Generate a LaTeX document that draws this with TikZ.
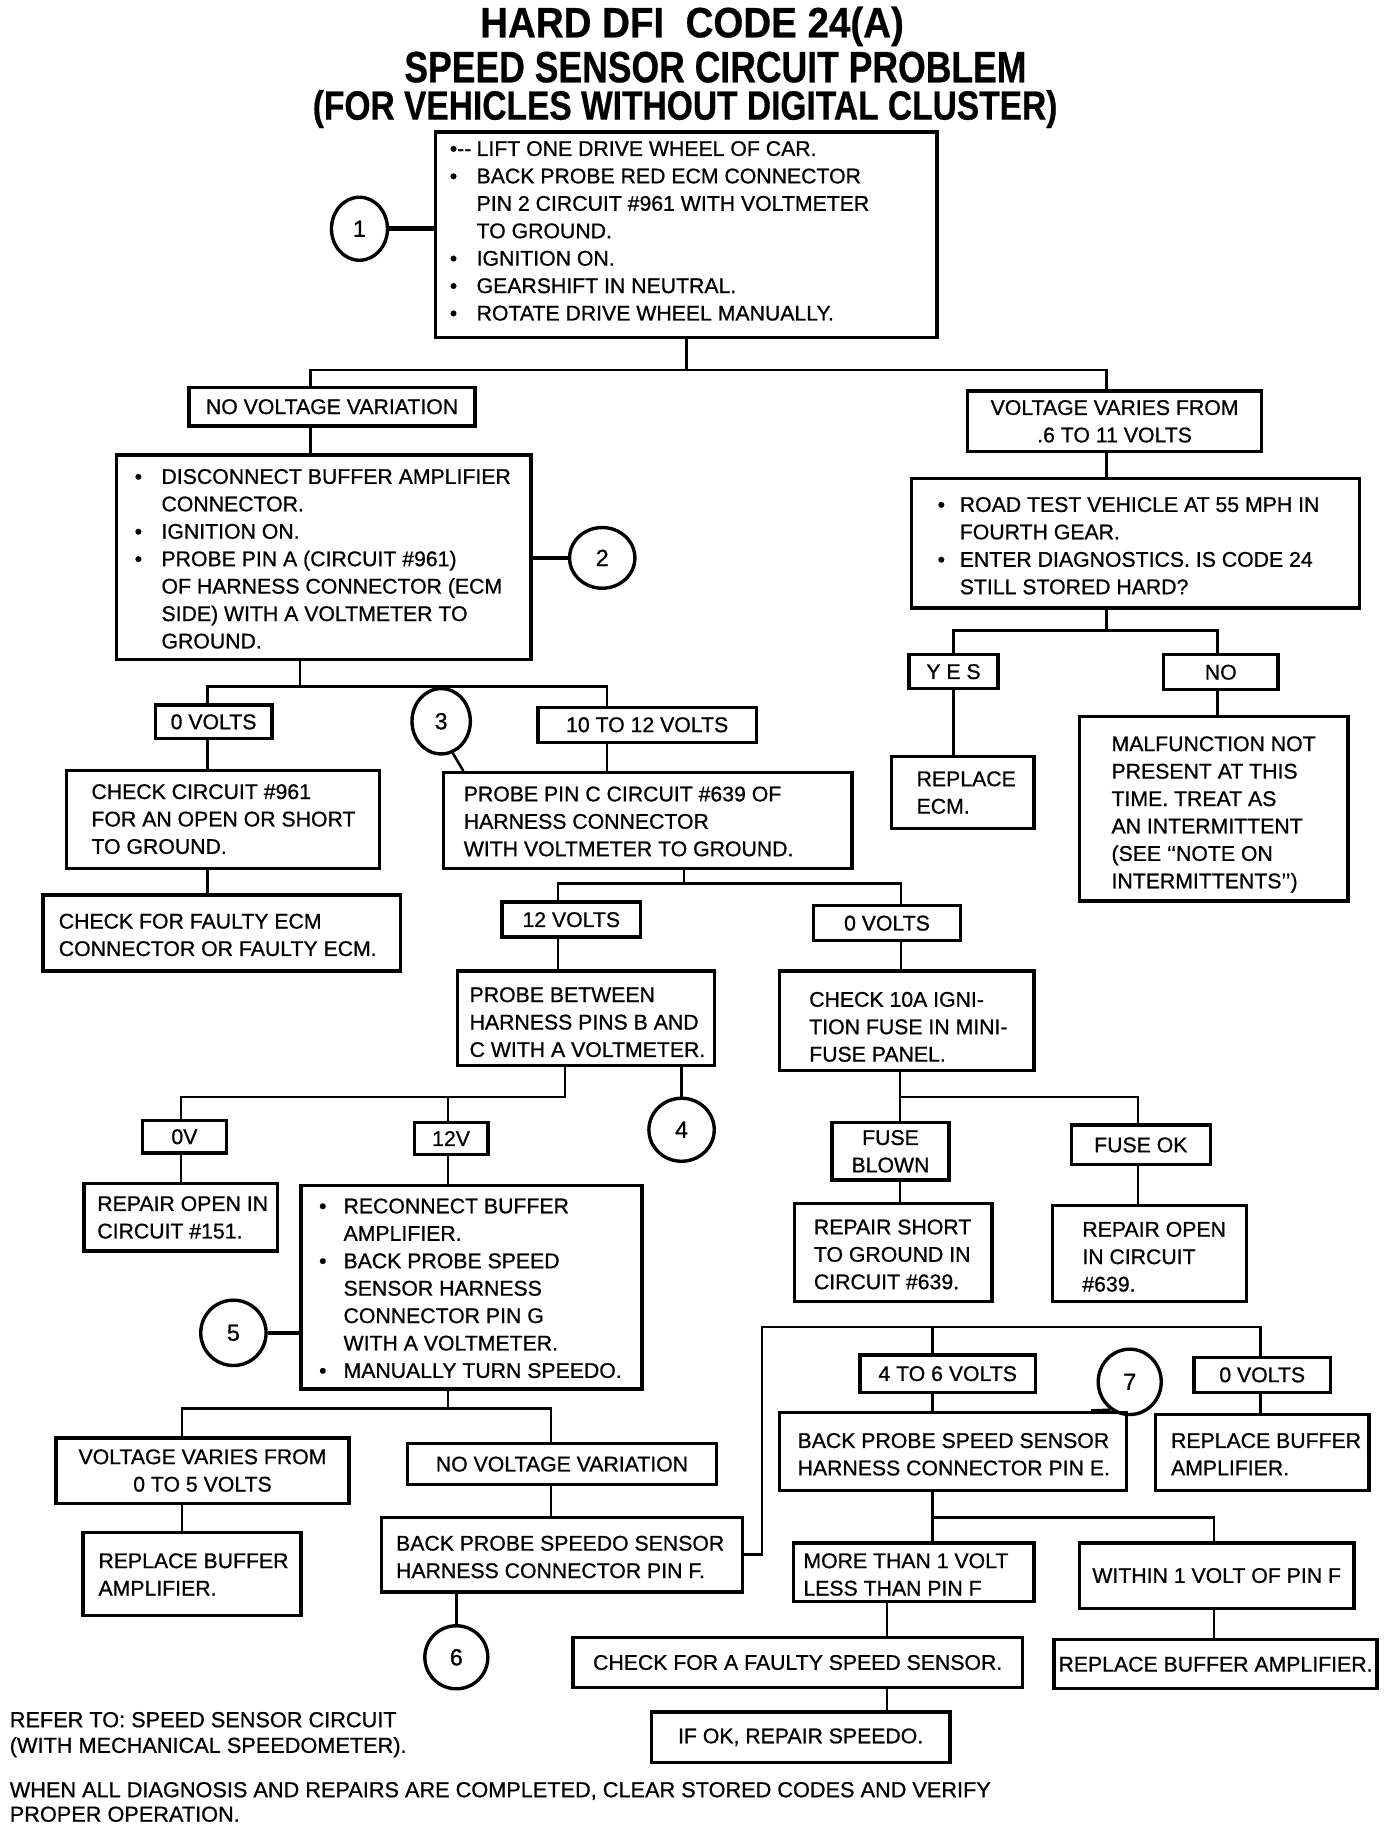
\documentclass[tikz,border=0pt]{standalone}
\usepackage{fontspec}
\setmainfont{Liberation Sans}
\newfontfamily\medfam{Liberation Sans}[FakeBold=0.8,Ligatures=TeX]
\newfontfamily\ttlfam{Liberation Sans Bold}[FakeBold=0.6,Ligatures=TeX]
\usepackage{graphicx}
\usetikzlibrary{shapes.geometric}
\newcommand\bodyfont{\medfam\fontsize{9.1}{11.75}\selectfont}
\newcommand\bu[2]{\makebox[#1][l]{•}#2}
\newcommand\nb[2]{\hspace*{#1}#2}
\newcommand\bx[6]{\node[box, minimum width={(#4-#2)*0.5pt}, minimum height={(#5-#3)*0.5pt}] (#1) at ({(#2+#4)/2},{(#3+#5)/2}) {#6};}
\newcommand\cc[6]{\node[circ, minimum width={#4*0.5pt}, minimum height={#5*0.5pt}] (#1) at (#2,#3) {#6};}
\tikzset{
  box/.style={draw, line width=1.45pt, inner sep=0pt, align=center, font=\bodyfont},
  txt/.style={inner sep=0pt, anchor=north west, align=left, font=\bodyfont},
  circ/.style={draw, ellipse, line width=1.45pt, inner sep=0pt, font=\medfam\fontsize{10}{12}\selectfont},
  conn/.style={line width=1.1pt},
  heavy/.style={line width=2pt},
  ttl/.style={anchor=base, inner sep=0pt}
}
\begin{document}
\begin{tikzpicture}[x=0.5pt,y=-0.5pt]
\fill[white] (0,0) rectangle (1193,1568);
\useasboundingbox (0,0) rectangle (1193,1568);

% titles
\node[ttl, font=\ttlfam\fontsize{18.2}{20}\selectfont] (ttl1) at (593,32) {\resizebox{181.5pt}{\height}{HARD DFI\ \ CODE 24(A)}};
\node[ttl, font=\ttlfam\fontsize{18.8}{20}\selectfont] (ttl2) at (613,70.5) {\resizebox{266.5pt}{\height}{SPEED SENSOR CIRCUIT PROBLEM}};
\node[ttl, font=\ttlfam\fontsize{17.5}{20}\selectfont] (ttl3) at (587,102.5) {\resizebox{319pt}{\height}{(FOR VEHICLES WITHOUT DIGITAL CLUSTER)}};

% boxes
\bx{b1}{373}{113}{803}{289}{}
\bx{nvv}{162}{332}{407}{365}{NO VOLTAGE VARIATION}
\bx{vvf}{829}{335}{1081}{387}{VOLTAGE VARIES FROM\\.6 TO 11 VOLTS}
\bx{b2}{100}{390}{455}{565}{}
\bx{road}{781}{410}{1165}{521}{}
\bx{yes}{779}{561}{855}{590}{Y E S}
\bx{no}{997}{561}{1095}{591}{NO}
\bx{recm}{764}{648}{886}{710}{}
\bx{malf}{925}{614}{1155}{772}{}
\bx{v0a}{133}{604}{233}{633}{0 VOLTS}
\bx{v1012}{461}{606}{648}{636}{10 TO 12 VOLTS}
\bx{cc961}{57}{660}{325}{744}{}
\bx{cfe}{37}{767}{343}{832}{}
\bx{ppc}{380}{662}{730}{744}{}
\bx{v12}{430}{773}{549}{803}{12 VOLTS}
\bx{v0b}{697}{776}{823}{806}{0 VOLTS}
\bx{pb}{392}{832}{612}{913}{}
\bx{c10}{668}{832}{886}{917}{}
\bx{zv}{122}{960}{194}{988}{0V}
\bx{tv}{355}{962}{418}{989}{12V}
\bx{fb}{713}{962}{813}{1011}{FUSE\\BLOWN}
\bx{fok}{918}{964}{1037}{998}{FUSE OK}
\bx{ro151}{72}{1014}{238}{1072}{}
\bx{b5}{258}{1016}{550}{1190}{}
\bx{rs}{681}{1031}{850}{1115}{}
\bx{ro639}{902}{1033}{1068}{1115}{}
\bx{vvf2}{48}{1232}{299}{1288}{VOLTAGE VARIES FROM\\0 TO 5 VOLTS}
\bx{nvv2}{349}{1237}{614}{1272}{NO VOLTAGE VARIATION}
\bx{rba}{71}{1313}{258}{1384}{}
\bx{bps}{327}{1300}{636}{1364}{}
\bx{v46}{737}{1161}{887}{1193}{4 TO 6 VOLTS}
\bx{v0c}{1023}{1163}{1140}{1193}{0 VOLTS}
\bx{bpe}{668}{1210}{965}{1277}{}
\bx{rb2}{990}{1212}{1173}{1277}{}
\bx{mt}{680}{1322}{886}{1372}{}
\bx{w1}{925}{1322}{1160}{1378}{WITHIN 1 VOLT OF PIN F}
\bx{cf}{491}{1403}{876}{1446}{CHECK FOR A FAULTY SPEED SENSOR.}
\bx{rba2}{903}{1405}{1180}{1447}{REPLACE BUFFER AMPLIFIER.}
\bx{ifok}{558}{1467}{814}{1510}{IF OK, REPAIR SPEEDO.}

% circles
\cc{c1}{308}{196}{48}{54}{1}
\cc{c2}{516}{478}{56}{52}{2}
\cc{c3}{378}{618}{50}{56}{3}
\cc{c4}{584}{968}{56}{54}{4}
\cc{c5}{200}{1142}{56}{56}{5}
\cc{c6}{391}{1420}{54}{54}{6}
\cc{c7}{968}{1184}{54}{56}{7}

% box texts
\node[txt] (t1) at (385,120.5) {\makebox[11.5pt][l]{•-{}-}LIFT ONE DRIVE WHEEL OF CAR.\\
\bu{11.5pt}{BACK PROBE RED ECM CONNECTOR}\\
\nb{11.5pt}{PIN 2 CIRCUIT \#961 WITH VOLTMETER}\\
\nb{11.5pt}{TO GROUND.}\\
\bu{11.5pt}{IGNITION ON.}\\
\bu{11.5pt}{GEARSHIFT IN NEUTRAL.}\\
\bu{11.5pt}{ROTATE DRIVE WHEEL MANUALLY.}};
\node[txt] (t2) at (115,401.5) {\bu{11.5pt}{DISCONNECT BUFFER AMPLIFIER}\\
\nb{11.5pt}{CONNECTOR.}\\
\bu{11.5pt}{IGNITION ON.}\\
\bu{11.5pt}{PROBE PIN A (CIRCUIT \#961)}\\
\nb{11.5pt}{OF HARNESS CONNECTOR (ECM}\\
\nb{11.5pt}{SIDE) WITH A VOLTMETER TO}\\
\nb{11.5pt}{GROUND.}};
\node[txt] (troad) at (803,425.5) {\bu{9.5pt}{ROAD TEST VEHICLE AT 55 MPH IN}\\
\nb{9.5pt}{FOURTH GEAR.}\\
\bu{9.5pt}{ENTER DIAGNOSTICS. IS CODE 24}\\
\nb{9.5pt}{STILL STORED HARD?}};
\node[txt] (trecm) at (785,660.5) {REPLACE\\ECM.};
\node[txt] (tmalf) at (952,630.5) {MALFUNCTION NOT\\PRESENT AT THIS\\TIME. TREAT AS\\AN INTERMITTENT\\(SEE ‘‘NOTE ON\\INTERMITTENTS’’)};
\node[txt] (tcc) at (78,671.5) {CHECK CIRCUIT \#961\\FOR AN OPEN OR SHORT\\TO GROUND.};
\node[txt] (tcfe) at (50,782.5) {CHECK FOR FAULTY ECM\\CONNECTOR OR FAULTY ECM.};
\node[txt] (tppc) at (397,673.5) {PROBE PIN C CIRCUIT \#639 OF\\HARNESS CONNECTOR\\WITH VOLTMETER TO GROUND.};
\node[txt] (tpb) at (402,845.5) {PROBE BETWEEN\\HARNESS PINS B AND\\C WITH A VOLTMETER.};
\node[txt] (tc10) at (693,849.5) {CHECK 10A IGNI-\\TION FUSE IN MINI-\\FUSE PANEL.};
\node[txt] (tro151) at (83,1024.5) {REPAIR OPEN IN\\CIRCUIT \#151.};
\node[txt] (tb5) at (273,1026.5) {\bu{10.5pt}{RECONNECT BUFFER}\\
\nb{10.5pt}{AMPLIFIER.}\\
\bu{10.5pt}{BACK PROBE SPEED}\\
\nb{10.5pt}{SENSOR HARNESS}\\
\nb{10.5pt}{CONNECTOR PIN G}\\
\nb{10.5pt}{WITH A VOLTMETER.}\\
\bu{10.5pt}{MANUALLY TURN SPEEDO.}};
\node[txt] (trs) at (697,1044.5) {REPAIR SHORT\\TO GROUND IN\\CIRCUIT \#639.};
\node[txt] (tro639) at (927,1046.5) {REPAIR OPEN\\IN CIRCUIT\\\#639.};
\node[txt] (trba) at (84,1330.5) {REPLACE BUFFER\\AMPLIFIER.};
\node[txt] (tbps) at (339,1315.5) {BACK PROBE SPEEDO SENSOR\\HARNESS CONNECTOR PIN F.};
\node[txt] (tbpe) at (683,1227.5) {BACK PROBE SPEED SENSOR\\HARNESS CONNECTOR PIN E.};
\node[txt] (trb2) at (1003,1227.5) {REPLACE BUFFER\\AMPLIFIER.};
\node[txt] (tmt) at (688,1330.5) {MORE THAN 1 VOLT\\LESS THAN PIN F};

% notes
\node[txt, font=\medfam\fontsize{9.3}{11}\selectfont] (tref) at (8,1466.5) {REFER TO: SPEED SENSOR CIRCUIT\\(WITH MECHANICAL SPEEDOMETER).};
\node[txt, font=\medfam\fontsize{9.3}{10.5}\selectfont] (twhen) at (8,1526.5) {WHEN ALL DIAGNOSIS AND REPAIRS ARE COMPLETED, CLEAR STORED CODES AND VERIFY\\PROPER OPERATION.};

% connectors
\draw[heavy] (c1.east) -- (b1.west |- c1);
\coordinate (j1a) at (266,317); \coordinate (j1b) at (948,317);
\draw[conn] (b1.south) -- (b1.south |- j1a);
\draw[conn] (j1a |- nvv.north) -- (j1a) -- (j1b) -- (j1b |- vvf.north);
\draw[conn] (j1a |- nvv.south) -- (j1a |- b2.north);
\draw[heavy] (b2.east |- c2) -- (c2.west);
\draw[conn] (j1b |- vvf.south) -- (j1b |- road.north);
\coordinate (j2a) at (817,540); \coordinate (j2b) at (1043,540);
\draw[conn] (j1b |- road.south) -- (j1b |- j2a);
\draw[conn] (j2a |- yes.north) -- (j2a) -- (j2b) -- (j2b |- no.north);
\draw[conn] (j2a |- yes.south) -- (j2a |- recm.north);
\draw[conn] (j2b |- no.south) -- (j2b |- malf.north);

\coordinate (j3a) at (178,588); \coordinate (j3b) at (520,588); \coordinate (j3c) at (257,588);
\draw[conn] (j3c |- b2.south) -- (j3c);
\draw[conn] (j3a |- v0a.north) -- (j3a) -- (j3b) -- (j3b |- v1012.north);
\draw[conn] (j3a |- v0a.south) -- (j3a |- cc961.north);
\draw[conn] (j3a |- cc961.south) -- (j3a |- cfe.north);
\draw[conn] (j3b |- v1012.south) -- (j3b |- ppc.north);
\coordinate (c3foot) at (397,662);
\draw[conn] (c3.290) -- (c3foot |- ppc.north);

\coordinate (j4a) at (478,757); \coordinate (j4b) at (772,757); \coordinate (j4c) at (586,757);
\draw[conn] (j4c |- ppc.south) -- (j4c);
\draw[conn] (j4a |- v12.north) -- (j4a) -- (j4b) -- (j4b |- v0b.north);
\draw[conn] (j4a |- v12.south) -- (j4a |- pb.north);
\draw[conn] (j4b |- v0b.south) -- (j4b |- c10.north);

\coordinate (j5a) at (155,940); \coordinate (j5b) at (484,940); \coordinate (j5t) at (384,940);
\draw[conn] (j5b |- pb.south) -- (j5b) -- (j5a) -- (j5a |- zv.north);
\draw[conn] (j5t) -- (j5t |- tv.north);
\draw[conn] (c4.north |- pb.south) -- (c4.north);
\draw[conn] (j5a |- zv.south) -- (j5a |- ro151.north);
\draw[conn] (j5t |- tv.south) -- (j5t |- b5.north);
\draw[heavy] (c5.east) -- (b5.west |- c5);

\coordinate (j6a) at (771,940); \coordinate (j6b) at (975,940);
\draw[conn] (j6a |- c10.south) -- (j6a |- fb.north);
\draw[conn] (j6a) -- (j6b) -- (j6b |- fok.north);
\draw[conn] (j6a |- fb.south) -- (j6a |- rs.north);
\draw[conn] (j6b |- fok.south) -- (j6b |- ro639.north);

\coordinate (j7a) at (156,1207); \coordinate (j7b) at (472,1207); \coordinate (j7c) at (384,1207);
\draw[conn] (j7c |- b5.south) -- (j7c);
\draw[conn] (j7a |- vvf2.north) -- (j7a) -- (j7b) -- (j7b |- nvv2.north);
\draw[conn] (j7a |- vvf2.south) -- (j7a |- rba.north);
\draw[conn] (j7b |- nvv2.south) -- (j7b |- bps.north);
\draw[conn] (c6.north |- bps.south) -- (c6.north);

\coordinate (j8d) at (653,1332); \coordinate (j8a) at (653,1137);
\coordinate (j8b) at (799,1137); \coordinate (j8c) at (1080,1137);
\draw[conn] (bps.east |- j8d) -- (j8d) -- (j8a) -- (j8c) -- (j8c |- v0c.north);
\draw[conn] (j8b) -- (j8b |- v46.north);
\draw[conn] (j8b |- v46.south) -- (j8b |- bpe.north);
\draw[conn] (j8c |- v0c.south) -- (j8c |- rb2.north);
\coordinate (c7foot) at (935,1210);
\draw[conn] (c7.235) -- (c7foot |- bpe.north);

\coordinate (j9a) at (799,1300); \coordinate (j9b) at (1040,1300);
\draw[conn] (j9a |- bpe.south) -- (j9a |- mt.north);
\draw[conn] (j9a) -- (j9b) -- (j9b |- w1.north);
\draw[conn] (j9b |- w1.south) -- (j9b |- rba2.north);
\coordinate (j10) at (760,1400);
\draw[conn] (j10 |- mt.south) -- (j10 |- cf.north);
\draw[conn] (j10 |- cf.south) -- (j10 |- ifok.north);
\end{tikzpicture}
\end{document}
